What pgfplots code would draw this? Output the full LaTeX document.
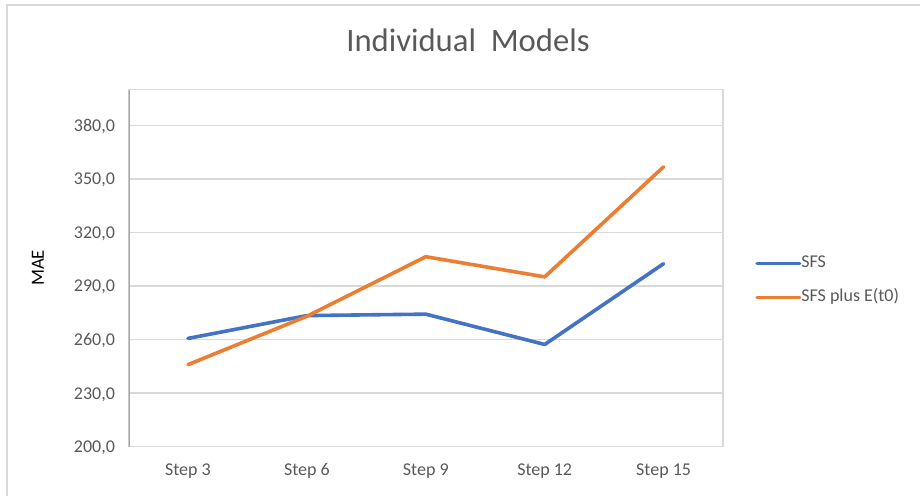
\documentclass[border=0pt]{standalone}
\usepackage{pgfplots}
\pgfplotsset{compat=1.18}
\usepackage{fontspec}
\setmainfont{Carlito}
\definecolor{xlblue}{HTML}{4472C4}
\definecolor{xlorange}{HTML}{ED7D31}
\definecolor{xlgrid}{HTML}{D9D9D9}
\definecolor{xltext}{HTML}{595959}
\definecolor{xlaxis}{HTML}{A6A6A6}
\begin{document}
\begin{tikzpicture}
\begin{axis}[
  at={(0pt,0pt)}, anchor=south west,
  scale only axis,
  width=445.9pt, height=267.6pt,
  xmin=-0.5, xmax=4.5,
  ymin=200, ymax=400,
  xtick={0,1,2,3,4},
  xticklabels={Step 3,Step 6,Step 9,Step 12,Step 15},
  ytick={200,230,260,290,320,350,380},
  yticklabels={{200,0},{230,0},{260,0},{290,0},{320,0},{350,0},{380,0}},
  major tick length=0pt,
  ymajorgrids,
  grid style={xlgrid, line width=0.9pt},
  axis line style={xlgrid, line width=1pt},
  tick label style={font=\fontsize{13.5}{16}\selectfont, text=xltext, inner sep=0pt},
  xticklabel style={anchor=base, yshift=-22pt},
  yticklabel style={anchor=base east, xshift=-10pt, yshift=-4.5pt},
  /pgf/number format/assume math mode=true,
  title={Individual\ \ Models},
  title style={at={(axis description cs:0.571,1.116)}, anchor=center, font=\fontsize{24.5}{28}\selectfont, text=xltext, inner sep=0pt},
  ylabel={MAE},
  ylabel style={at={(axis description cs:-0.1523,0.5004)}, anchor=center, font=\fontsize{14}{16}\selectfont, text=black, inner sep=0pt},
  legend style={at={(axis description cs:1.0538,0.5385)}, anchor=north west, draw=none, fill=none, inner sep=0pt, row sep=12.5pt,
    nodes={inner sep=0pt, text height=10pt, text depth=3pt, font=\fontsize{13.5}{16}\selectfont, text=xltext},
    /tikz/every even column/.append style={column sep=2pt}},
  legend cell align=left,
  legend image code/.code={\draw[#1, line width=2.6pt, line cap=round] (0pt,0pt) -- (32pt,0pt);},
]
\addplot[xlblue, line width=2.7pt, line cap=round, line join=round] coordinates {
  (0,260.6) (1,273.4) (2,274.2) (3,257.2) (4,302.5)};
\addlegendentry{SFS}
\addplot[xlorange, line width=2.7pt, line cap=round, line join=round] coordinates {
  (0,245.9) (1,273.0) (2,306.4) (3,295.1) (4,356.8)};
\addlegendentry{SFS plus E(t0)}
\draw[xlaxis, line width=1.5pt] (rel axis cs:0,0) -- (rel axis cs:0,1);
\end{axis}
\draw[xlgrid, line width=1.2pt] (-91.1pt,-40pt) -- (-91.1pt,331.1pt) -- (600pt,331.1pt);
\pgfresetboundingbox
\useasboundingbox (-96.4pt,-36.4pt) rectangle (593.6pt,334.9pt);
\end{tikzpicture}
\end{document}
